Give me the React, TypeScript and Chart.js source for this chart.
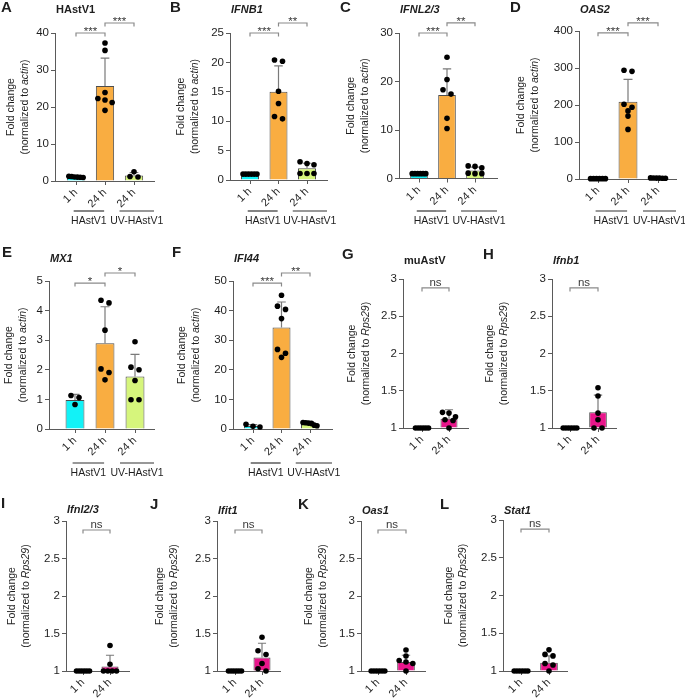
import React, { useEffect, useRef } from 'react';
import { Chart, registerables } from 'chart.js';

Chart.register(...registerables);

const PAGE_W = 685;
const PAGE_H = 699;
const FONT = "'Liberation Sans', Arial, Helvetica, sans-serif";
const AXIS = '#5a5a5a';
const TEXT = '#1e1e1e';
const ERR = '#7a7a7a';
const BRACKET = '#8a8a8a';
const CYAN = '#12F2F7';
const ORANGE = '#F9AD41';
const LIME = '#D6F57C';
const MAGENTA = '#E8168B';
const DARK = '#111111';

// ---------- data ----------
const LABELS_3 = ['1 h', '24 h', '24 h'];
const LABELS_2 = ['1 h', '24 h'];
const COLORS_3 = [CYAN, ORANGE, LIME];
const COLORS_2 = [DARK, MAGENTA];
const GROUPS = ['HAstV1', 'UV-HAstV1'];

const A_MEAN = [1.1, 25.7, 1.5];
const A_SD = [0.3, 7.5, 0.8];
const A_POINTS = [[1.3, 1.2, 1.1, 1.05, 1.0, 0.95], [37.3, 35.3, 23.9, 22.3, 21.9, 21.2, 19.1], [2.5, 1.2, 1.1]];
const A_SIG: [number, number, number, string][] = [[0, 1, 40, '***'], [1, 2, 42.7, '***']];

const B_MEAN = [1.0, 15.0, 2.0];
const B_SD = [0.05, 4.4, 0.85];
const B_POINTS = [[1, 1, 1, 1, 1, 1], [20.4, 20.2, 15.1, 13.0, 10.8, 10.4], [3.1, 2.8, 2.6, 1.1, 1.1, 1.1]];
const B_SIG: [number, number, number, string][] = [[0, 1, 25, '***'], [1, 2, 26.7, '**']];

const C_MEAN = [1.0, 17.2, 1.65];
const C_SD = [0.05, 5.4, 0.7];
const C_POINTS = [[1, 1, 1, 1, 1, 1], [25.0, 20.4, 18.3, 17.4, 12.4, 10.3], [2.6, 2.5, 2.2, 1.1, 1.0, 1.0]];
const C_SIG: [number, number, number, string][] = [[0, 1, 30, '***'], [1, 2, 32.1, '**']];

const D_MEAN = [1.0, 209, 2.5];
const D_SD = [0.1, 60, 1];
const D_POINTS = [[1, 1, 1, 1, 1, 1], [294, 291, 202, 194, 184, 170, 134], [3, 2.8, 2.5, 2.2, 2, 2.5]];
const D_SIG: [number, number, number, string][] = [[0, 1, 395, '***'], [1, 2, 422, '***']];

const E_MEAN = [0.98, 2.9, 1.77];
const E_SD = [0.19, 1.23, 0.75];
const E_POINTS = [[1.13, 1.06, 0.83], [4.35, 4.26, 3.34, 2.03, 1.91, 1.66], [2.95, 2.09, 2.0, 1.64, 0.99, 0.99]];
const E_SIG: [number, number, number, string][] = [[0, 1, 4.93, '*'], [1, 2, 5.27, '*']];

const F_MEAN = [1.0, 34.3, 1.8];
const F_SD = [0.5, 8.6, 0.45];
const F_POINTS = [[1.57, 0.9, 0.67], [45.2, 41.5, 40.4, 37.3, 26.9, 25.6, 24.2], [2.2, 2.1, 2.0, 1.9, 1.3, 1.1]];
const F_SIG: [number, number, number, string][] = [[0, 1, 49.3, '***'], [1, 2, 52.7, '**']];

const NS_SIG: [number, number, number, string][] = [[0, 1, 2.88, 'ns']];

const G_MEAN = [1, 1.125];
const G_SD = [0.004, 0.12];
const G_POINTS = [[1, 1, 1, 1, 1, 1], [1.21, 1.2, 1.15, 1.11, 1.1, 1.0]];

const H_MEAN = [1, 1.21];
const H_SD = [0.004, 0.23];
const H_POINTS = [[1, 1, 1, 1, 1, 1], [1.54, 1.43, 1.2, 1.11, 1.0, 1.0]];

const I_MEAN = [1, 1.06];
const I_SD = [0.004, 0.15];
const I_POINTS = [[1, 1, 1, 1, 1, 1], [1.34, 1.09, 1.0, 1.0, 1.0, 1.0]];

const J_MEAN = [1, 1.18];
const J_SD = [0.004, 0.19];
const J_POINTS = [[1, 1, 1, 1, 1, 1], [1.45, 1.27, 1.22, 1.1, 1.03, 1.0]];

const K_MEAN = [1, 1.12];
const K_SD = [0.004, 0.09];
const K_POINTS = [[1, 1, 1, 1, 1, 1], [1.28, 1.2, 1.14, 1.12, 1.1, 1.0]];

const L_MEAN = [1, 1.11];
const L_SD = [0.004, 0.09];
const L_POINTS = [[1, 1, 1, 1, 1, 1], [1.28, 1.22, 1.2, 1.1, 1.08, 1.0]];

// ---------- panel definitions (content + layout) ----------
interface PanelDef {
  letter: string; title: string; italic: boolean; norm: string;
  labels: string[]; colors: string[]; mean: number[]; sd: number[]; points: number[][];
  sig: [number, number, number, string][];
  yMin: number; yMax: number; yStep: number;
  groups: boolean;
  L: { axisX: number; right: number; top: number; bottom: number; c0: number; step: number;
       letterX: number; letterY: number; titleY: number; yTitleX: number; groupY: number };
}

const three = (letter: string, title: string, italic: boolean, mean: number[], sd: number[], points: number[][],
  sig: [number, number, number, string][], yMax: number, yStep: number, L: PanelDef['L']): PanelDef => ({
  letter, title, italic, norm: 'actin', labels: LABELS_3, colors: COLORS_3, mean, sd, points, sig,
  yMin: 0, yMax, yStep, groups: true, L,
});
const two = (letter: string, title: string, italic: boolean, mean: number[], sd: number[], points: number[][],
  L: PanelDef['L']): PanelDef => ({
  letter, title, italic, norm: 'Rps29', labels: LABELS_2, colors: COLORS_2, mean, sd, points, sig: NS_SIG,
  yMin: 1, yMax: 3, yStep: 0.5, groups: false, L,
});

const PANELS: PanelDef[] = [
  three('A', 'HAstV1', false, A_MEAN, A_SD, A_POINTS, A_SIG, 40, 10,
    { axisX: 55, right: 154, top: 33, bottom: 181, c0: 76, step: 29, letterX: 1, letterY: 8, titleY: 10, yTitleX: 11, groupY: 211 }),
  three('B', 'IFNB1', true, B_MEAN, B_SD, B_POINTS, B_SIG, 25, 5,
    { axisX: 230, right: 327, top: 33, bottom: 180, c0: 250, step: 28.5, letterX: 170, letterY: 8, titleY: 10, yTitleX: 181, groupY: 211 }),
  three('C', 'IFNL2/3', true, C_MEAN, C_SD, C_POINTS, C_SIG, 30, 10,
    { axisX: 399, right: 497, top: 33, bottom: 178.5, c0: 419, step: 28, letterX: 340, letterY: 8, titleY: 10, yTitleX: 351, groupY: 211 }),
  three('D', 'OAS2', true, D_MEAN, D_SD, D_POINTS, D_SIG, 400, 100,
    { axisX: 579, right: 676, top: 31, bottom: 179, c0: 598, step: 30, letterX: 510, letterY: 8, titleY: 10, yTitleX: 521, groupY: 211 }),
  three('E', 'MX1', true, E_MEAN, E_SD, E_POINTS, E_SIG, 5, 1,
    { axisX: 49, right: 154, top: 281, bottom: 429, c0: 75, step: 30, letterX: 2, letterY: 253, titleY: 259, yTitleX: 9, groupY: 463 }),
  three('F', 'IFI44', true, F_MEAN, F_SD, F_POINTS, F_SIG, 50, 10,
    { axisX: 233, right: 332, top: 281, bottom: 429, c0: 253, step: 28.5, letterX: 172, letterY: 253, titleY: 259, yTitleX: 182, groupY: 463 }),
  two('G', 'muAstV', false, G_MEAN, G_SD, G_POINTS,
    { axisX: 403, right: 468, top: 279, bottom: 428, c0: 422, step: 27, letterX: 342, letterY: 255, titleY: 261, yTitleX: 352, groupY: 0 }),
  two('H', 'Ifnb1', true, H_MEAN, H_SD, H_POINTS,
    { axisX: 552, right: 616, top: 279, bottom: 428, c0: 570, step: 28, letterX: 483, letterY: 255, titleY: 261, yTitleX: 490, groupY: 0 }),
  two('I', 'Ifnl2/3', true, I_MEAN, I_SD, I_POINTS,
    { axisX: 66, right: 129, top: 521, bottom: 671, c0: 83, step: 27, letterX: 1, letterY: 504, titleY: 510, yTitleX: 12, groupY: 0 }),
  two('J', 'Ifit1', true, J_MEAN, J_SD, J_POINTS,
    { axisX: 217, right: 280, top: 521, bottom: 671, c0: 235, step: 27, letterX: 150, letterY: 505, titleY: 511, yTitleX: 160, groupY: 0 }),
  two('K', 'Oas1', true, K_MEAN, K_SD, K_POINTS,
    { axisX: 361, right: 425, top: 521, bottom: 671, c0: 378, step: 28, letterX: 298, letterY: 505, titleY: 511, yTitleX: 309, groupY: 0 }),
  two('L', 'Stat1', true, L_MEAN, L_SD, L_POINTS,
    { axisX: 503, right: 567, top: 520, bottom: 671, c0: 521, step: 28, letterX: 440, letterY: 505, titleY: 511, yTitleX: 449, groupY: 0 }),
];

const BAR_PCT = 0.63;
const Y_AXIS_W = 30;
const X_AXIS_H = 30;

// simple Prism-like horizontal spreading of overlapping points
function swarm(values: number[], cat: number, yPx: number, xPx: number) {
  const barW = xPx * BAR_PCT;
  const sorted = [...values].sort((a, b) => b - a);
  const rows: number[][] = [];
  for (const v of sorted) {
    const row = rows[rows.length - 1];
    if (row && (row[0] - v) * yPx < 4.5) row.push(v); else rows.push([v]);
  }
  const out: { x: number; y: number }[] = [];
  rows.forEach((row) => {
    const k = row.length;
    const st = k > 1 ? Math.min(8, (barW - 4) / (k - 1)) : 0;
    row.forEach((v, j) => out.push({ x: cat + ((j - (k - 1) / 2) * st) / xPx, y: v }));
  });
  return out;
}

function drawYTitle(ctx: CanvasRenderingContext2D, x: number, y: number, norm: string) {
  ctx.save();
  ctx.translate(x, y);
  ctx.rotate(-Math.PI / 2);
  ctx.fillStyle = TEXT;
  ctx.textBaseline = 'middle';
  ctx.textAlign = 'center';
  ctx.font = `10.5px ${FONT}`;
  ctx.fillText('Fold change', 0, 0);
  const parts: [string, boolean][] = [['(normalized to ', false], [norm, true], [')', false]];
  const fontOf = (it: boolean) => `${it ? 'italic ' : ''}10.5px ${FONT}`;
  let total = 0;
  parts.forEach(([s, it]) => { ctx.font = fontOf(it); total += ctx.measureText(s).width; });
  let cx = -total / 2;
  ctx.textAlign = 'left';
  parts.forEach(([s, it]) => {
    ctx.font = fontOf(it);
    ctx.fillText(s, cx, 14);
    cx += ctx.measureText(s).width;
  });
  ctx.restore();
}

function makePlugin(p: PanelDef) {
  return {
    id: 'panelDecor' + p.letter,
    afterDatasetDraw(chart: any, args: any) {
      if (args.index !== 1) return;
      const xs = chart.scales.x;
      const ys = chart.scales.y;
      const ctx: CanvasRenderingContext2D = chart.ctx;
      ctx.save();
      ctx.strokeStyle = ERR;
      ctx.lineWidth = 1.2;
      p.mean.forEach((m, i) => {
        const px = xs.getPixelForValue(i);
        const y0 = ys.getPixelForValue(m);
        const y1 = ys.getPixelForValue(m + p.sd[i]);
        ctx.beginPath();
        ctx.moveTo(px, y0);
        ctx.lineTo(px, y1);
        ctx.moveTo(xs.getPixelForValue(i - 0.15), y1);
        ctx.lineTo(xs.getPixelForValue(i + 0.15), y1);
        ctx.stroke();
      });
      ctx.restore();
    },
    afterDraw(chart: any) {
      const xs = chart.scales.x;
      const ys = chart.scales.y;
      const ctx: CanvasRenderingContext2D = chart.ctx;
      const L = p.L;
      ctx.save();
      // significance brackets
      p.sig.forEach(([a, b, level, txt]) => {
        const x1 = xs.getPixelForValue(a);
        const x2 = xs.getPixelForValue(b);
        const y = ys.getPixelForValue(level);
        ctx.strokeStyle = BRACKET;
        ctx.lineWidth = 1.2;
        ctx.beginPath();
        ctx.moveTo(x1, y + 3.5); ctx.lineTo(x1, y); ctx.lineTo(x2, y); ctx.lineTo(x2, y + 3.5);
        ctx.stroke();
        ctx.font = `11.5px ${FONT}`;
        ctx.fillStyle = '#3a3a3a';
        ctx.textAlign = 'center';
        ctx.textBaseline = 'alphabetic';
        const m = ctx.measureText(txt);
        ctx.fillText(txt, (x1 + x2) / 2, y - 2 - m.actualBoundingBoxDescent);
      });
      // panel letter
      ctx.fillStyle = TEXT;
      ctx.textBaseline = 'middle';
      ctx.textAlign = 'left';
      ctx.font = `bold 15px ${FONT}`;
      ctx.fillText(p.letter, L.letterX, L.letterY);
      // panel title
      ctx.font = `${p.italic ? 'italic ' : ''}bold 11px ${FONT}`;
      ctx.fillText(p.title, L.axisX + 1, L.titleY);
      // y axis title
      drawYTitle(ctx, L.yTitleX, (L.top + L.bottom) / 2, p.norm);
      // group lines
      if (p.groups) {
        const spans = [[-0.08, 0.97], [1.5, xs.max]];
        spans.forEach(([a, b], gi) => {
          const x1 = xs.getPixelForValue(a);
          const x2 = xs.getPixelForValue(b);
          ctx.strokeStyle = '#333';
          ctx.lineWidth = 1.2;
          ctx.beginPath();
          ctx.moveTo(x1, L.groupY); ctx.lineTo(x2, L.groupY);
          ctx.stroke();
          ctx.fillStyle = TEXT;
          ctx.font = `10.5px ${FONT}`;
          ctx.textAlign = 'center';
          ctx.textBaseline = 'middle';
          ctx.fillText(GROUPS[gi], (x1 + x2) / 2, L.groupY + 10);
        });
      }
      ctx.restore();
    },
  };
}

function Panel({ p }: { p: PanelDef }) {
  const ref = useRef<HTMLCanvasElement | null>(null);
  useEffect(() => {
    const canvas = ref.current;
    if (!canvas) return;
    const L = p.L;
    const xMin = -(L.c0 - L.axisX) / L.step;
    const xMax = (L.right - L.c0) / L.step;
    const yPx = (L.bottom - L.top) / (p.yMax - p.yMin);
    const pts = p.points.flatMap((vals, i) => swarm(vals, i, yPx, L.step));
    const tickFont = { family: FONT, size: 11.5 };
    const chart = new Chart(canvas, {
      type: 'bar',
      data: {
        datasets: [
          {
            type: 'scatter',
            data: pts,
            backgroundColor: '#000',
            borderColor: '#000',
            pointRadius: 2.8,
            pointBorderWidth: 0,
            clip: false,
            order: 1,
          } as any,
          {
            type: 'bar',
            data: p.mean.map((m, i) => ({ x: i, y: m })),
            backgroundColor: p.colors,
            borderColor: '#4d4d4d',
            borderWidth: 1,
            barPercentage: BAR_PCT,
            categoryPercentage: 1,
            base: p.yMin,
            order: 2,
          } as any,
        ],
      },
      options: {
        responsive: false,
        animation: false,
        events: [],
        layout: {
          padding: {
            left: L.axisX - Y_AXIS_W,
            top: L.top,
            right: PAGE_W - L.right,
            bottom: PAGE_H - L.bottom - X_AXIS_H,
          },
        },
        plugins: { legend: { display: false }, tooltip: { enabled: false }, title: { display: false } },
        scales: {
          x: {
            type: 'linear',
            min: xMin,
            max: xMax,
            offset: false,
            afterFit: (s: any) => { s.height = X_AXIS_H; s.paddingLeft = 0; s.paddingRight = 0; },
            ticks: {
              stepSize: 1,
              includeBounds: false,
              autoSkip: false,
              minRotation: 45,
              maxRotation: 45,
              padding: 1,
              font: { family: FONT, size: 11 },
              color: TEXT,
              callback: (v: any) => (Number.isInteger(v) ? p.labels[v] ?? '' : ''),
            },
            grid: { display: true, drawOnChartArea: false, drawTicks: true, tickLength: 4, color: AXIS, offset: false },
            border: { display: true, color: AXIS, width: 1 },
          },
          y: {
            type: 'linear',
            min: p.yMin,
            max: p.yMax,
            afterFit: (s: any) => { s.width = Y_AXIS_W; s.paddingTop = 0; s.paddingBottom = 0; },
            ticks: {
              stepSize: p.yStep,
              font: tickFont,
              color: TEXT,
              padding: 2,
              callback: (v: any) => String(Math.round(Number(v) * 100) / 100),
            },
            grid: { display: true, drawOnChartArea: false, drawTicks: true, tickLength: 4, color: AXIS },
            border: { display: true, color: AXIS, width: 1 },
          },
        },
      } as any,
      plugins: [makePlugin(p)],
    });
    return () => chart.destroy();
  }, [p]);
  return (
    <canvas
      ref={ref}
      width={PAGE_W}
      height={PAGE_H}
      style={{ position: 'absolute', left: 0, top: 0, width: PAGE_W, height: PAGE_H }}
    />
  );
}

export default function App() {
  useEffect(() => {
    document.body.style.margin = '0';
  }, []);
  return (
    <div style={{ position: 'relative', width: PAGE_W, height: PAGE_H, background: '#fff', overflow: 'hidden' }}>
      <style>{'body{margin:0}'}</style>
      {PANELS.map((p) => (
        <Panel key={p.letter} p={p} />
      ))}
    </div>
  );
}
